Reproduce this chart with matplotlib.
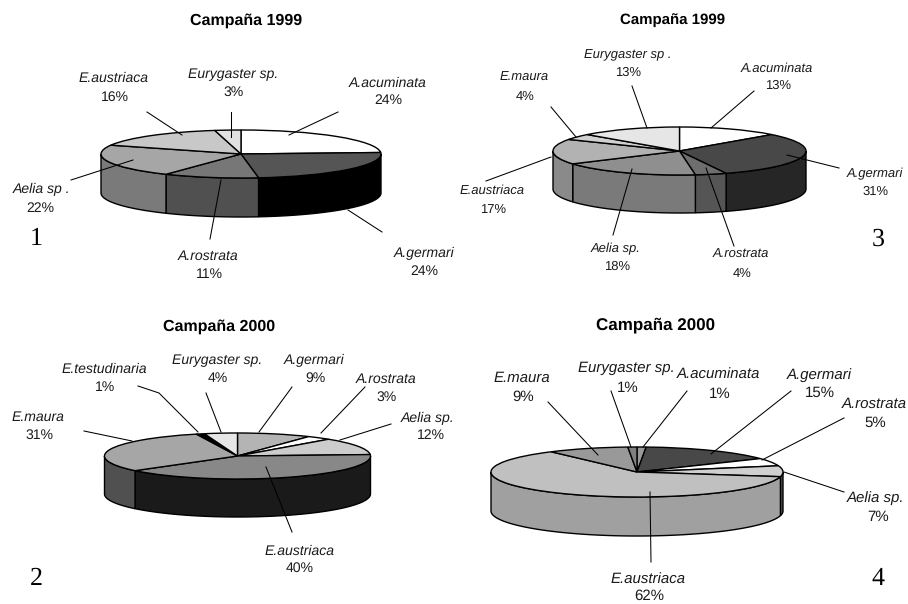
#!/usr/bin/env python3
"""Four pseudo-3D pie charts of species share per campaign."""

import matplotlib
matplotlib.use("Agg")
import matplotlib.pyplot as plt
import numpy as np

WIDTH, HEIGHT = 908, 604

# data, clockwise from twelve o'clock
names_1 = ["A.acuminata", "A.germari", "A.rostrata", "Aelia sp .", "E.austriaca", "Eurygaster sp."]
values_1 = [24, 24, 11, 22, 16, 3]
top_1 = ["#ffffff", "#555555", "#777777", "#a6a6a6", "#c8c8c8", "#e2e2e2"]
side_1 = ["#bbbbbb", "#000000", "#505050", "#7a7a7a", "#8f8f8f", "#aaaaaa"]

names_2 = ["A.germari", "A.rostrata", "Aelia sp.", "E.austriaca", "E.maura", "E.testudinaria", "Eurygaster sp."]
values_2 = [9, 3, 12, 40, 31, 1, 4]
top_2 = ["#b4b4b4", "#ffffff", "#cccccc", "#888888", "#a6a6a6", "#000000", "#e6e6e6"]
side_2 = ["#777777", "#bbbbbb", "#888888", "#1a1a1a", "#505050", "#000000", "#aaaaaa"]

names_3 = ["A.acuminata", "A.germari", "A.rostrata", "Aelia sp.", "E.austriaca", "E.maura", "Eurygaster sp ."]
values_3 = [13, 31, 4, 18, 17, 4, 13]
top_3 = ["#ffffff", "#484848", "#6e6e6e", "#8f8f8f", "#b2b2b2", "#d0d0d0", "#e6e6e6"]
side_3 = ["#bbbbbb", "#262626", "#555555", "#7a7a7a", "#8a8a8a", "#999999", "#aaaaaa"]

names_4 = ["A.acuminata", "A.germari", "A.rostrata", "Aelia sp.", "E.austriaca", "E.maura", "Eurygaster sp."]
values_4 = [1, 15, 5, 7, 62, 9, 1]
top_4 = ["#999999", "#484848", "#ffffff", "#d0d0d0", "#c0c0c0", "#999999", "#808080"]
side_4 = ["#666666", "#222222", "#bbbbbb", "#555555", "#a0a0a0", "#666666", "#555555"]

titles = ["Campaña 1999", "Campaña 2000", "Campaña 1999", "Campaña 2000"]
numbers = ["1", "2", "3", "4"]

# layout in reference pixels: centre x, centre y, radius x, radius y, wall depth
PIES = [
    (241, 154, 140, 24, 39),
    (237.5, 456, 133, 23, 38),
    (679.5, 151, 126.5, 24, 38),
    (637, 472, 146, 25, 39),
]
TITLE_POS = [(246, 20.5), (219, 326.5), (673, 20.5), (656, 325.5)]
NUMBER_POS = [(36, 239), (36, 579), (878, 239), (878, 579)]
LABEL_SIZE = [10, 9.8, 9.6, 10.6]
TITLE_SIZE = [11.7, 11.7, 10.9, 12]
TEXT_NUDGE = 1

# (name x, name y, percent x, percent y), same order as the data
LABEL_POS = [
    [(388, 82, 388, 99), (424, 252, 424, 270), (208, 255, 209, 273),
     (41, 188, 40, 207), (114, 77, 115, 96), (233, 73, 234, 91)],
    [(314, 359, 315, 377), (386, 378, 387, 396), (428, 417, 431, 434),
     (300, 550, 300, 567), (38, 416, 39, 434), (104, 368, 105, 386),
     (217, 359, 218, 377)],
    [(777, 68, 778, 85), (875, 173, 876, 191), (741, 254, 742, 273),
     (616, 248, 617, 266), (492, 190, 493, 209), (524, 77, 525, 96),
     (628, 54, 628, 72)],
    [(718, 374, 720, 393), (819, 374, 820, 392), (874, 403, 875, 422),
     (876, 497, 878, 516), (648, 579, 649, 595), (522, 377, 523, 396),
     (626, 367, 628, 387)],
]
LEADERS = [
    [[(338, 112), (289, 135)], [(382, 232), (348, 210)], [(210, 239), (221, 180)],
     [(71, 180), (133, 160)], [(147, 112), (182, 135)], [(231, 112), (231, 137)]],
    [[(292, 387), (259, 432)], [(365, 387), (321, 433)], [(391, 424), (340, 440)],
     [(292, 532), (266, 467)], [(84, 431), (132, 441)],
     [(138, 386), (159, 393), (198, 432)], [(206, 393), (221, 432)]],
    [[(754, 91), (711, 128)], [(839, 168), (787, 155)], [(734, 246), (706, 168)],
     [(613, 235), (632, 169)], [(486, 181), (551, 157)], [(551, 107), (576, 137)],
     [(632, 86), (647, 128)]],
    [[(687, 391), (643, 447)], [(791, 391), (711, 454)], [(844, 418), (762, 460)],
     [(844, 492), (784, 472)], [(651, 562), (650, 492)], [(548, 402), (598, 455)],
     [(611, 391), (631, 447)]],
]


def draw_pie(fig, pie, values, top_colors, side_colors):
    cx, cy, rx, ry, depth = pie
    ax = fig.add_axes([(cx - rx) / WIDTH, 1 - (cy + ry) / HEIGHT, 2 * rx / WIDTH, 2 * ry / HEIGHT])
    ax.pie(values, colors=top_colors, startangle=90, counterclock=False,
           wedgeprops={"edgecolor": "black", "linewidth": 1.0})
    ax.set_aspect("auto")
    ax.set_xlim(-1, 1)
    ax.set_ylim(-1, 1)

    # walls: only the part of each slice facing the viewer
    edges = np.cumsum([0] + list(values)) / sum(values) * 2 * np.pi
    drop = depth / ry
    for start, end, color in zip(edges[:-1], edges[1:], side_colors):
        lo, hi = max(start, np.pi / 2), min(end, 3 * np.pi / 2)
        if hi <= lo:
            continue
        theta = np.linspace(lo, hi, 80)
        x = np.sin(theta)
        y = np.cos(theta)
        ax.fill(np.r_[x, x[::-1]], np.r_[y, y[::-1] - drop], facecolor=color,
                edgecolor="black", linewidth=1.0, zorder=0, clip_on=False)


def main():
    plt.rcParams["font.family"] = ["Liberation Sans", "DejaVu Sans"]
    plt.rcParams["text.hinting"] = "no_hinting"
    plt.rcParams["text.hinting_factor"] = 1
    fig = plt.figure(figsize=(WIDTH / 100, HEIGHT / 100), dpi=100, facecolor="white")

    all_names = [names_1, names_2, names_3, names_4]
    all_values = [values_1, values_2, values_3, values_4]
    all_top = [top_1, top_2, top_3, top_4]
    all_side = [side_1, side_2, side_3, side_4]

    for i in range(4):
        draw_pie(fig, PIES[i], all_values[i], all_top[i], all_side[i])

    # overlay in pixel coordinates for text and leader lines
    overlay = fig.add_axes([0, 0, 1, 1], facecolor="none")
    overlay.set_xlim(0, WIDTH)
    overlay.set_ylim(HEIGHT, 0)
    overlay.set_axis_off()

    for i in range(4):
        overlay.text(*TITLE_POS[i], titles[i], fontsize=TITLE_SIZE[i], fontweight="bold",
                     ha="center", va="center", color="black")
        overlay.text(*NUMBER_POS[i], numbers[i], fontsize=19, family="Liberation Serif",
                     ha="center", va="center", color="black")
        for name, value, pos, leader in zip(all_names[i], all_values[i], LABEL_POS[i], LEADERS[i]):
            overlay.text(pos[0], pos[1] + TEXT_NUDGE, name, fontsize=LABEL_SIZE[i], style="italic",
                         ha="center", va="center", color="#1a1a1a")
            overlay.text(pos[2], pos[3] + TEXT_NUDGE, f"{value}%", fontsize=LABEL_SIZE[i],
                         ha="center", va="center", color="#1a1a1a")
            xs, ys = zip(*leader)
            overlay.plot(xs, ys, color="black", linewidth=0.75)

    fig.savefig("out.png", dpi=100)
    plt.close(fig)


if __name__ == "__main__":
    main()
